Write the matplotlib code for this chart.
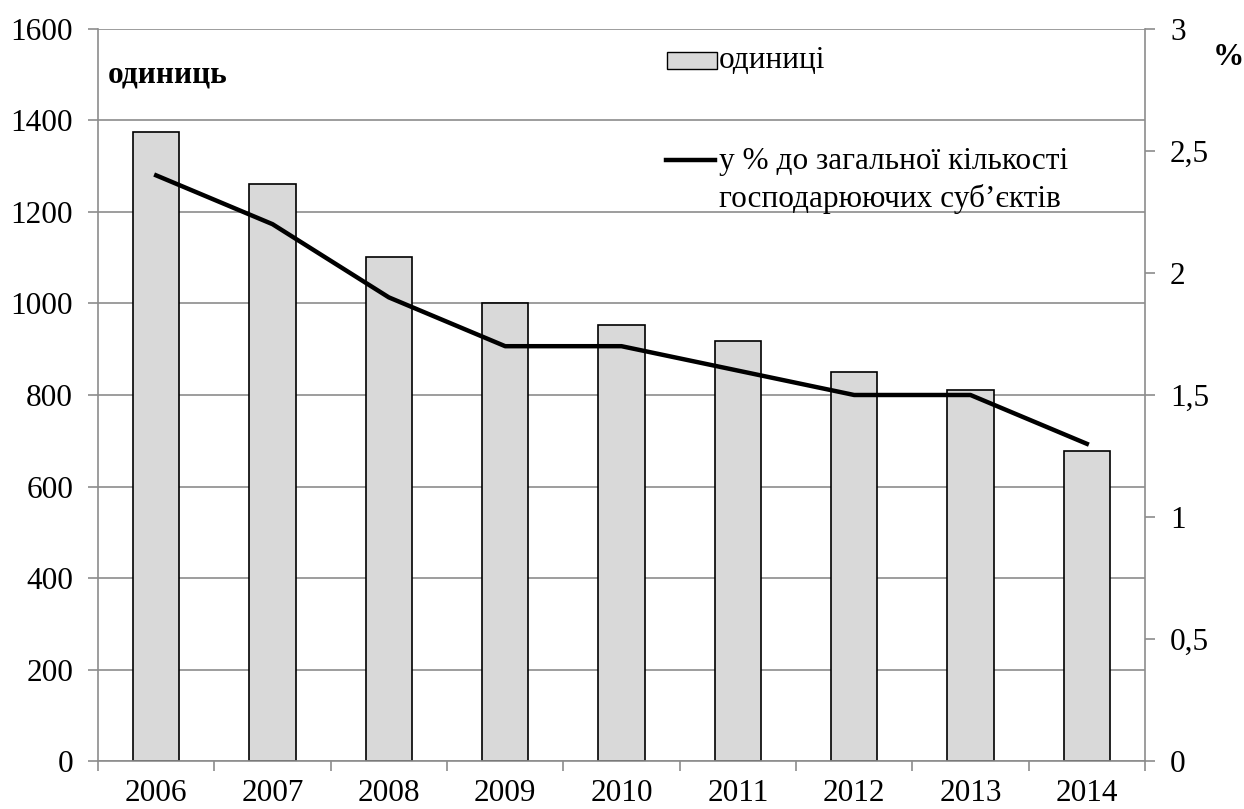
import matplotlib
matplotlib.use("Agg")
import matplotlib.pyplot as plt
from matplotlib.patches import Rectangle
from matplotlib.lines import Line2D
from matplotlib.ticker import FuncFormatter, FixedLocator
import numpy as np

years = ["2006", "2007", "2008", "2009", "2010", "2011", "2012", "2013", "2014"]
units = [1375, 1262, 1102, 1001, 952, 918, 850, 812, 677]
percent = [2.4, 2.2, 1.9, 1.7, 1.7, 1.6, 1.5, 1.5, 1.3]

plt.rcParams['font.family'] = ['Liberation Serif', 'DejaVu Serif']

FS = 22.5
fig = plt.figure(figsize=(12.44, 8.09), dpi=100)
ax = fig.add_axes([0.0788, 0.0593, 0.9204 - 0.0788, 0.9642 - 0.0593])
x = np.arange(len(years))

ax.bar(x, units, width=0.4, color='#d9d9d9', edgecolor='black', linewidth=1.2, zorder=2)
ax.set_ylim(0, 1600)
ax.set_xlim(-0.5, len(years) - 0.5)
ax.set_yticks(np.arange(0, 1601, 200))
ax.yaxis.grid(True, color='#8c8c8c', linewidth=1.2, zorder=0)
ax.set_axisbelow(True)
ax.set_xticks(x)
ax.set_xticklabels(years)
ax.xaxis.set_minor_locator(FixedLocator(np.arange(-0.5, len(years), 1)))
ax.tick_params(axis='x', which='major', length=0, pad=13, labelsize=FS)
ax.tick_params(axis='x', which='minor', length=7, color='#8c8c8c', width=1.2)
ax.tick_params(axis='y', length=7, color='#8c8c8c', width=1.2, labelsize=FS, pad=11)
for s in ['top', 'right']:
    ax.spines[s].set_visible(False)
for s in ['left', 'bottom']:
    ax.spines[s].set_color('#8c8c8c')
    ax.spines[s].set_linewidth(1.2)

ax2 = ax.twinx()
ax2.plot(x, percent, color='black', linewidth=3.2, zorder=5)
ax2.set_ylim(0, 3)
ax2.set_yticks(np.arange(0, 3.01, 0.5))
ax2.yaxis.set_major_formatter(FuncFormatter(lambda v, p: ('%g' % v).replace('.', ',')))
ax2.tick_params(axis='y', length=7, color='#8c8c8c', width=1.2, labelsize=FS, pad=11)
for s in ['top', 'left', 'bottom']:
    ax2.spines[s].set_visible(False)
ax2.spines['right'].set_color('#8c8c8c')
ax2.spines['right'].set_linewidth(1.2)

fig.text(0.0868, 0.907, 'одиниць', fontsize=FS, fontweight='bold', ha='left', va='center')
fig.text(0.975, 0.929, '%', fontsize=FS, fontweight='bold', ha='left', va='center')

# legend drawn manually
fig.patches.append(Rectangle((0.536, 0.9147), 0.040, 0.021, transform=fig.transFigure,
                             facecolor='#d9d9d9', edgecolor='black', linewidth=1.0))
fig.lines.append(Line2D([0.535, 0.575], [0.802, 0.802], transform=fig.transFigure,
                        color='black', linewidth=3.2))
fig.text(0.578, 0.925, 'одиниці', fontsize=FS, ha='left', va='center')
fig.text(0.578, 0.800, 'у % до загальної кількості', fontsize=FS, ha='left', va='center')
fig.text(0.578, 0.754, 'господарюючих суб’єктів', fontsize=FS, ha='left', va='center')

fig.savefig('out.png', dpi=100)
